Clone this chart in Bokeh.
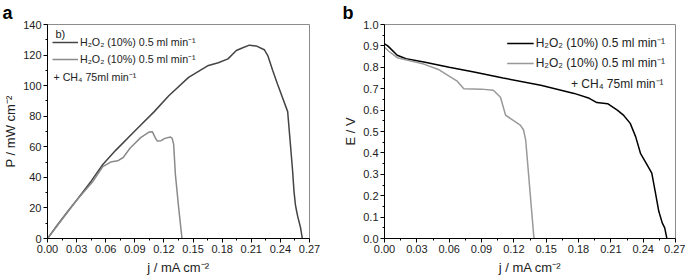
from bokeh.plotting import figure
from bokeh.layouts import row
from bokeh.models import Legend, LegendItem, Label, FixedTicker, NumeralTickFormatter, Range1d, Title
from bokeh.embed import file_html
from bokeh.resources import INLINE

# ---------------- data ----------------
x_ticks = [0.00, 0.03, 0.06, 0.09, 0.12, 0.15, 0.18, 0.21, 0.24, 0.27]
x_minor = [0.015, 0.045, 0.075, 0.105, 0.135, 0.165, 0.195, 0.225, 0.255]
p_ticks = [0, 20, 40, 60, 80, 100, 120, 140]
p_minor = [10, 30, 50, 70, 90, 110, 130]
e_ticks = [0.0, 0.1, 0.2, 0.3, 0.4, 0.5, 0.6, 0.7, 0.8, 0.9, 1.0]
e_minor = [0.05, 0.15, 0.25, 0.35, 0.45, 0.55, 0.65, 0.75, 0.85, 0.95]

# panel a: power density
pa_j = [0, 0.01, 0.02, 0.03, 0.045, 0.057, 0.07, 0.091, 0.11, 0.125, 0.1454, 0.165,
        0.176, 0.186, 0.1946, 0.2, 0.208, 0.215, 0.2234, 0.227, 0.232, 0.237, 0.2475,
        0.25, 0.2525, 0.254, 0.2555, 0.2567, 0.258, 0.2608, 0.2626]
pa_p = [0, 8.7, 17, 25, 37.5, 48.4, 57.5, 71, 83, 93.4, 105.4, 113,
        115, 117.5, 123, 124.5, 126.5, 126, 123.5, 119.7, 110, 101, 83,
        64, 45, 31, 22, 18, 14, 7, 0]
pb_j = [0, 0.03, 0.047, 0.057, 0.065, 0.0723, 0.078, 0.085, 0.096, 0.1046, 0.108,
        0.111, 0.113, 0.117, 0.121, 0.1267, 0.1285, 0.130, 0.1318, 0.1352, 0.1386]
pb_p = [0, 25, 37.5, 47, 50, 50.8, 53, 59, 66, 69.6, 69.9,
        66, 63.8, 64, 65.5, 66.4, 65.5, 61.6, 41.9, 19.9, 0]

# panel b: voltage
ea_j = [0, 0.003, 0.0118, 0.02, 0.0365, 0.06, 0.083, 0.11, 0.145, 0.176, 0.19, 0.197,
        0.207, 0.216, 0.222, 0.228, 0.233, 0.2375, 0.243, 0.248, 0.2514, 0.2545,
        0.2577, 0.26, 0.262]
ea_e = [0.91, 0.90, 0.856, 0.84, 0.825, 0.80, 0.778, 0.75, 0.716, 0.678, 0.655, 0.635,
        0.630, 0.60, 0.575, 0.538, 0.476, 0.398, 0.35, 0.305, 0.213, 0.127,
        0.073, 0.05, 0.0]
eb_j = [0, 0.004, 0.0118, 0.0365, 0.05, 0.061, 0.0675, 0.0736, 0.09, 0.101, 0.1076,
        0.1123, 0.117, 0.126, 0.129, 0.131, 0.1385, 0.139]
eb_e = [0.894, 0.875, 0.845, 0.815, 0.79, 0.755, 0.735, 0.70, 0.698, 0.693, 0.66,
        0.577, 0.56, 0.53, 0.507, 0.46, 0.01, 0.0]

label_1 = "H\u2082O\u2082 (10%) 0.5 ml min\u207b\u00b9"
label_2 = "H\u2082O\u2082 (10%) 0.5 ml min\u207b\u00b9"
label_3 = "+ CH\u2084 75ml min\u207b\u00b9"

FONT = "Liberation Sans"
H = 279
TOP, BOTTOM = 24, 41
FRAME_H = H - TOP - BOTTOM


def style(p, yticks, yminor, yfmt):
    p.xgrid.visible = False
    p.ygrid.visible = False
    p.outline_line_color = "#8c8c8c"
    p.outline_line_width = 1
    p.background_fill_color = "white"
    p.border_fill_color = "white"
    p.xaxis.ticker = FixedTicker(ticks=x_ticks, minor_ticks=x_minor)
    p.yaxis.ticker = FixedTicker(ticks=yticks, minor_ticks=yminor)
    p.xaxis.formatter = NumeralTickFormatter(format="0.00")
    p.yaxis.formatter = NumeralTickFormatter(format=yfmt)
    for ax in (p.xaxis[0], p.yaxis[0]):
        ax.axis_line_color = "black"
        ax.axis_line_width = 1
        ax.major_tick_line_color = "black"
        ax.minor_tick_line_color = "black"
        ax.major_tick_out = 4
        ax.major_tick_in = 0
        ax.minor_tick_out = 2
        ax.minor_tick_in = 0
        ax.major_label_text_font = FONT
        ax.major_label_text_font_size = "11px"
        ax.major_label_text_color = "#222222"
        ax.major_label_standoff = 2
        ax.axis_label_text_font = FONT
        ax.axis_label_text_font_size = "13px"
        ax.axis_label_text_font_style = "normal"
        ax.axis_label_text_color = "#222222"
    p.xaxis.axis_label_standoff = 4
    p.yaxis.axis_label_standoff = 2


def panel_title(text, offset):
    return Title(text=text, align="left", offset=offset, standoff=0,
                 vertical_align="top",
                 text_font="Liberation Sans", text_font_size="18px",
                 text_font_style="bold", text_color="black")


# ---------------- panel a ----------------
p1 = figure(width=340, height=H, output_backend="svg", toolbar_location=None,
            x_range=Range1d(0, 0.27), y_range=Range1d(0, 140),
            min_border_left=44, min_border_right=31, min_border_top=TOP,
            min_border_bottom=BOTTOM, title=panel_title("a", -45),
            x_axis_label="j / mA cm\u207b\u00b2", y_axis_label="P / mW cm\u207b\u00b2")
style(p1, p_ticks, p_minor, "0")
r1 = p1.line(pa_j, pa_p, line_color="#444444", line_width=1.5)
r2 = p1.line(pb_j, pb_p, line_color="#8a8a8a", line_width=1.5)
leg1 = Legend(items=[LegendItem(label=label_1, renderers=[r1]),
                     LegendItem(label=label_2, renderers=[r2])],
              location=(5, FRAME_H - 42), glyph_width=26, glyph_height=14,
              label_height=14, label_standoff=2, spacing=3, padding=0, margin=0,
              background_fill_alpha=0, border_line_color=None,
              label_text_font=FONT, label_text_font_size="10.7px",
              label_text_color="#222222")
p1.add_layout(leg1)
p1.add_layout(Label(x=0.0082, y=133.8, text="b)", text_font=FONT, text_font_size="11px",
                    text_baseline="middle", text_color="#222222"))
p1.add_layout(Label(x=0.0061, y=105.8, text=label_3, text_font=FONT, text_font_size="10.7px",
                    text_baseline="middle", text_color="#222222"))

# ---------------- panel b ----------------
p2 = figure(width=345, height=H, output_backend="svg", toolbar_location=None,
            x_range=Range1d(0, 0.27), y_range=Range1d(0, 1.0),
            min_border_left=44, min_border_right=10, min_border_top=TOP,
            min_border_bottom=BOTTOM, title=panel_title("b", -42),
            x_axis_label="j / mA cm\u207b\u00b2", y_axis_label="E / V")
style(p2, e_ticks, e_minor, "0.0")
r3 = p2.line(ea_j, ea_e, line_color="black", line_width=1.5)
r4 = p2.line(eb_j, eb_e, line_color="#999999", line_width=1.5)
leg2 = Legend(items=[LegendItem(label=label_1, renderers=[r3]),
                     LegendItem(label=label_2, renderers=[r4])],
              location="top_right", glyph_width=27, glyph_height=16,
              label_height=16, label_standoff=2, spacing=3, padding=0, margin=10,
              background_fill_alpha=0, border_line_color=None,
              label_text_font=FONT, label_text_font_size="12px",
              label_text_color="#222222")
p2.add_layout(leg2)
p2.add_layout(Label(x=0.2589, y=0.721, text=label_3, text_font=FONT, text_font_size="12px",
                    text_align="right", text_baseline="middle", text_color="#222222"))

layout = row(p1, p2)
open("out.html", "w").write(file_html(layout, INLINE))
